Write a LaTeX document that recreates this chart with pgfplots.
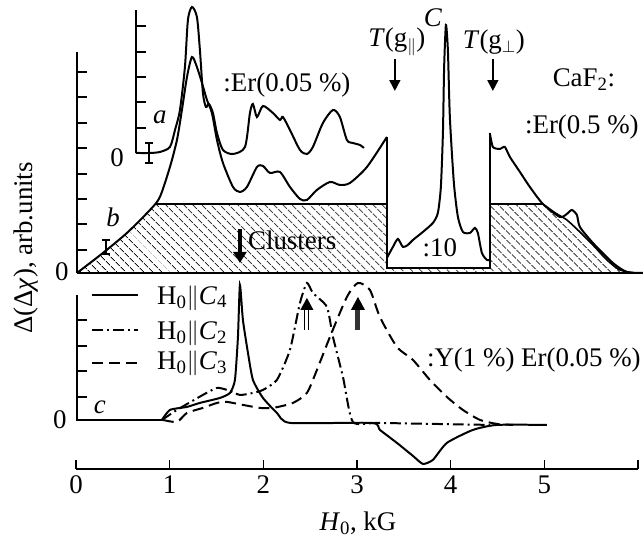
\documentclass[border=0pt]{standalone}
\usepackage{fontspec}
\setmainfont{Liberation Serif}
\usepackage{pgfplots}
\pgfplotsset{compat=1.18}
\usetikzlibrary{patterns.meta,arrows.meta}

\begin{document}
\begin{tikzpicture}[font=\fontsize{27}{32}\selectfont]
\begin{axis}[
  scale only axis, width=562.2bp, height=469bp,
  xmin=0, xmax=6, ymin=70, ymax=539,
  axis x line*=bottom, axis y line=none, ytick=\empty,
  xtick={0,...,6}, xticklabels={0,1,2,3,4,5,{}},
  tick align=inside, major tick length=9bp,
  x axis line style={line width=1.6pt},
  tick style={line width=1.5pt, black},
  xticklabel style={yshift=-3pt},
  /pgf/number format/assume math mode=true,
  clip=false,
  every axis plot/.append style={line width=2pt, black},
]
% overall page frame
\path (axis cs:-0.811,0) rectangle (axis cs:6.062,539);

% ---------------- curve b: hatched cluster contribution ----------------
\addplot[draw=none, pattern={Lines[angle=-45,distance=6.5pt,line width=0.9pt]}, pattern color=black]
  coordinates {(0.011,266) (0.288,286) (0.544,306) (0.790,329) (0.839,335) (4.984,335)
  (5.117,326) (5.240,319) (5.379,307) (5.518,294) (5.667,279) (5.806,269) (5.966,266) (6.051,266)} -- cycle;
\addplot[line width=1.6pt] coordinates {(0.839,335) (4.984,335)};

% curve b, left part
\addplot[smooth, tension=0.45] coordinates {
  (0.011,266) (0.288,286) (0.544,306) (0.790,329) (0.896,342) (1.003,372) (1.078,399)
  (1.131,429) (1.185,462) (1.238,482) (1.291,472) (1.345,456) (1.398,439) (1.451,426)
  (1.505,399) (1.569,376) (1.676,352) (1.750,347) (1.825,352) (1.932,372) (1.996,373)
  (2.070,366) (2.177,367) (2.284,352) (2.391,340) (2.465,339) (2.572,349) (2.711,357)
  (2.817,354) (2.924,356) (3.106,372) (3.319,402)};

% inset C (reduced :10)
\fill[white] (axis cs:3.319,272) rectangle (axis cs:4.418,345);
\addplot[line width=2pt] coordinates {(3.319,402) (3.319,271) (4.418,271) (4.418,406)};
\addplot[smooth, tension=0.4] coordinates {
  (3.319,281) (3.383,292) (3.436,300) (3.490,292) (3.543,294) (3.597,299) (3.703,307)
  (3.810,316) (3.863,326) (3.895,352) (3.917,406) (3.930,472) (3.949,514) (3.970,489)
  (3.991,422) (4.034,356) (4.077,322) (4.130,307) (4.205,306) (4.258,311) (4.290,306)
  (4.333,286) (4.386,279) (4.418,279)};

% curve b, right part
\addplot[smooth, tension=0.4] coordinates {
  (4.418,406) (4.450,392) (4.525,390) (4.578,392) (4.632,382) (4.739,367) (4.845,352)
  (4.984,335) (5.165,322) (5.240,325) (5.293,329) (5.347,324) (5.379,312) (5.518,296)
  (5.731,276) (5.880,267) (6.051,266)};
\addplot[smooth, tension=0.4, line width=1.6pt] coordinates {
  (4.984,335) (5.117,326) (5.240,319) (5.379,307) (5.518,294) (5.667,279) (5.806,269)
  (5.966,266) (6.051,266)};

% baseline and scale of b
\addplot[line width=2pt] coordinates {(0.011,266) (6.051,266)};
\addplot[line width=2pt] coordinates {(0.011,266) (0.011,487)};
\pgfplotsinvokeforeach{467,442,416,391,365,340,315,289}{
  \draw[line width=1.5pt] (axis cs:0.011,#1) -- (axis cs:0.118,#1);}
\draw[line width=1.5pt] (axis cs:0.320,299) -- (axis cs:0.320,285)
  (axis cs:0.277,299) -- (axis cs:0.363,299) (axis cs:0.277,285) -- (axis cs:0.363,285);

% ---------------- curve a ----------------
\addplot[line width=2pt] coordinates {(0.640,386) (0.640,529)};
\pgfplotsinvokeforeach{513,487,462,437,411}{
  \draw[line width=1.5pt] (axis cs:0.640,#1) -- (axis cs:0.747,#1);}
\addplot[smooth, tension=0.45] coordinates {
  (0.640,386) (0.790,386) (0.896,387) (1.003,392) (1.057,409) (1.110,429) (1.163,472)
  (1.195,519) (1.238,532) (1.291,522) (1.323,489) (1.355,446) (1.387,432) (1.419,435)
  (1.462,426) (1.505,406) (1.569,389) (1.676,385) (1.804,392) (1.857,426) (1.889,435)
  (1.932,422) (1.996,433) (2.102,426) (2.177,419) (2.209,422) (2.284,409) (2.391,389)
  (2.465,385) (2.529,392) (2.636,416) (2.743,429) (2.817,422) (2.892,399) (2.956,396)
  (3.031,394) (3.074,391)};
\draw[line width=1.5pt] (axis cs:0.779,396) -- (axis cs:0.779,376)
  (axis cs:0.736,396) -- (axis cs:0.822,396) (axis cs:0.736,376) -- (axis cs:0.822,376);

% ---------------- curves c ----------------
\addplot[line width=2pt] coordinates {(0.011,244) (0.011,119) (0.93,119)};
\pgfplotsinvokeforeach{219,193,168,142}{
  \draw[line width=1.5pt] (axis cs:0.011,#1) -- (axis cs:0.118,#1);}
% H0 || C4
\addplot[smooth, tension=0.35] coordinates {
  (0.918,119) (1.003,129) (1.185,132) (1.323,136) (1.537,141) (1.644,146) (1.697,159)
  (1.729,202) (1.750,254) (1.782,219) (1.836,186) (1.889,159) (1.996,141) (2.145,126)
  (2.284,116) (3.159,116) (3.244,109) (3.426,96) (3.597,83) (3.703,75) (3.810,79)
  (3.959,96) (4.237,109) (4.493,114) (5.027,114)};
% H0 || C2
\addplot[smooth, tension=0.35, dash pattern=on 11pt off 4pt on 2pt off 4pt] coordinates {
  (0.918,119) (1.078,129) (1.355,144) (1.505,151) (1.612,149) (1.750,144) (1.889,146)
  (1.996,149) (2.145,159) (2.284,189) (2.391,236) (2.465,256) (2.529,246) (2.679,232)
  (2.743,202) (2.850,162) (2.956,117) (3.244,116) (4.418,114)};
% H0 || C3
\addplot[smooth, tension=0.4, dash pattern=on 11pt off 6pt] coordinates {
  (0.928,119) (1.078,117) (1.185,126) (1.355,131) (1.505,136) (1.612,137) (1.782,134)
  (1.964,131) (2.102,131) (2.316,136) (2.465,146) (2.572,169) (2.711,202) (2.892,242)
  (3.010,256) (3.138,249) (3.244,222) (3.426,192) (3.597,179) (3.778,159) (3.959,142)
  (4.130,129) (4.312,119) (4.493,115) (4.664,114)};

% legend of c
\addplot[line width=1.8pt] coordinates {(0.171,244) (0.662,244)};
\addplot[line width=1.8pt, dash pattern=on 11pt off 4pt on 2pt off 4pt] coordinates {(0.171,209) (0.662,209)};
\addplot[line width=1.8pt, dash pattern=on 11pt off 6pt] coordinates {(0.171,176) (0.662,176)};
\node[anchor=west] at (axis cs:0.83,241) {H\textsubscript{0}$\|$\textit{C}\textsubscript{4}};
\node[anchor=west] at (axis cs:0.83,206) {H\textsubscript{0}$\|$\textit{C}\textsubscript{2}};
\node[anchor=west] at (axis cs:0.83,176) {H\textsubscript{0}$\|$\textit{C}\textsubscript{3}};

% arrows
\draw[line width=1.6pt, -{Triangle[length=11pt,width=11pt]}] (axis cs:3.404,480) -- (axis cs:3.404,448);
\draw[line width=1.6pt, -{Triangle[length=11pt,width=11pt]}] (axis cs:4.450,480) -- (axis cs:4.450,448);
\draw[line width=3.5pt, -{Triangle[length=11pt,width=13pt]}] (axis cs:1.750,310) -- (axis cs:1.750,276);
\draw[line width=0.9pt] (axis cs:2.444,209) -- (axis cs:2.444,230) (axis cs:2.486,209) -- (axis cs:2.486,230);
\fill (axis cs:2.395,229) -- (axis cs:2.535,229) -- (axis cs:2.465,241) -- cycle;
\draw[line width=5pt, black!80] (axis cs:3.010,209) -- (axis cs:3.010,230);
\fill (axis cs:2.935,229) -- (axis cs:3.085,229) -- (axis cs:3.010,242) -- cycle;

% labels
\node at (axis cs:3.810,521) {\textit{C}};
\node at (axis cs:3.885,291) {:10};
\node at (axis cs:3.426,497) {\textit{T}(g\textsubscript{$\|$})};
\node at (axis cs:4.461,497) {\textit{T}(g\textsubscript{$\perp$})};
\node at (axis cs:5.422,459) {CaF\textsubscript{2}:};
\node at (axis cs:5.40,412) {:Er(0.5 \%)};
\node at (axis cs:2.252,454) {:Er(0.05 \%)};
\node at (axis cs:4.888,179) {:Y(1 \%) Er(0.05 \%)};
\node at (axis cs:0.896,422) {\textit{a}};
\node at (axis cs:0.395,322) {\textit{b}};
\node at (axis cs:0.256,132) {\textit{c}};
\node[anchor=west] at (axis cs:1.80,299) {Clusters};
\node at (axis cs:0.438,381) {0};
\node at (axis cs:-0.150,267) {0};
\node at (axis cs:-0.171,119) {0};
\node[rotate=90] at (axis cs:-0.534,291) {Δ(Δ\textit{χ}), arb.units};
\node at (axis cs:3.01,16) {\textit{H}\textsubscript{0}, kG};
\end{axis}
\end{tikzpicture}
\end{document}
